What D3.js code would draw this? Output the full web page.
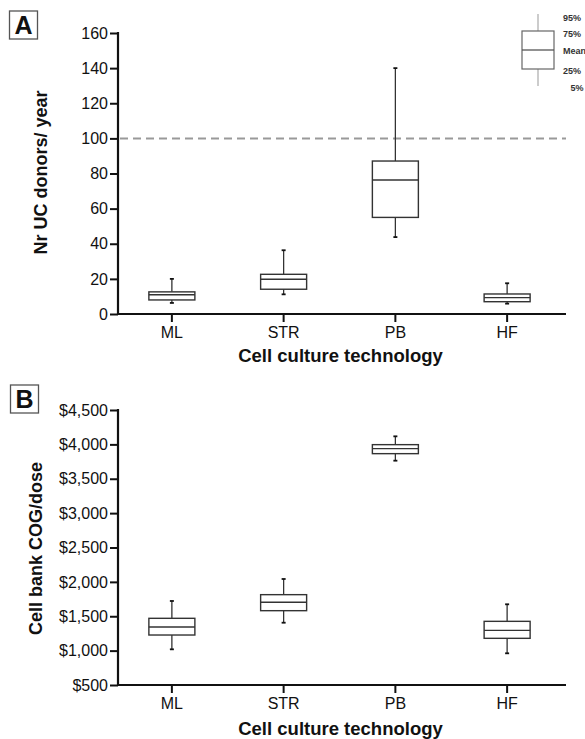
<!DOCTYPE html>
<html>
<head>
<meta charset="utf-8">
<script src="https://cdn.jsdelivr.net/npm/d3@7"></script>
<style>
  html, body { margin: 0; padding: 0; background: #fff; }
  svg { display: block; font-family: "Liberation Sans", Arial, sans-serif; }
</style>
</head>
<body>
<svg id="chart" width="585" height="739"></svg>
<script>
// Technologies compared in both panels
const categories = ["ML", "STR", "PB", "HF"];

// Panel A: number of UC donors per year (5%, 25%, mean, 75%, 95%)
const donorsP5   = [6.3, 11.2, 43.8, 5.9];
const donorsP25  = [8, 14.1, 55, 7];
const donorsMean = [11, 19.8, 76.3, 9.3];
const donorsP75  = [12.6, 22.6, 87.1, 11.4];
const donorsP95  = [20, 36.3, 140, 17.5];
const donorsTicks = [0, 20, 40, 60, 80, 100, 120, 140, 160];
const donorsLimit = 100;

// Panel B: cell bank cost of goods per dose, USD
const cogP5   = [1019, 1406, 3763, 961];
const cogP25  = [1227, 1581, 3865, 1179];
const cogMean = [1344, 1703, 3938, 1295];
const cogP75  = [1470, 1814, 3996, 1426];
const cogP95  = [1722, 2042, 4117, 1674];
const cogTicks = [500, 1000, 1500, 2000, 2500, 3000, 3500, 4000, 4500];

// Legend entries for the box key
const legendLabels = ["95%", "75%", "Mean", "25%", "5%"];

const svg = d3.select("#chart");
const axisLeftX = 118, axisRightX = 566;
const boxW = 46, capW = 4;

const x = d3.scaleBand().domain(categories).range([116, 563]).padding(0);

function panel(opts) {
  const g = svg.append("g");
  const y = d3.scaleLinear().domain(opts.domain).range([opts.bottom, opts.top]);

  // y axis
  const ya = g.append("g")
    .attr("transform", `translate(${axisLeftX},0)`)
    .call(d3.axisLeft(y).tickValues(opts.ticks).tickSize(8).tickPadding(2).tickFormat(opts.fmt));
  ya.select(".domain").remove();
  ya.selectAll(".tick line").attr("stroke", "#111").attr("stroke-width", 2);
  ya.selectAll(".tick text").attr("fill", "#111").attr("font-size", 16)
    .attr("font-family", "Liberation Sans, Arial, sans-serif");
  g.append("line").attr("x1", axisLeftX).attr("x2", axisLeftX)
    .attr("y1", opts.top - 1).attr("y2", opts.bottom + 1)
    .attr("stroke", "#111").attr("stroke-width", 2.2);

  // x axis
  const xa = g.append("g")
    .attr("transform", `translate(0,${opts.bottom})`)
    .call(d3.axisBottom(x).tickSize(8).tickPadding(5));
  xa.select(".domain").remove();
  xa.selectAll(".tick line").attr("stroke", "#111").attr("stroke-width", 2);
  xa.selectAll(".tick text").attr("fill", "#111").attr("font-size", 16)
    .attr("font-family", "Liberation Sans, Arial, sans-serif");
  g.append("line").attr("x1", axisLeftX - 1).attr("x2", axisRightX)
    .attr("y1", opts.bottom).attr("y2", opts.bottom)
    .attr("stroke", "#111").attr("stroke-width", 2.2);

  // reference line
  if (opts.refLine != null) {
    g.append("line").attr("x1", axisLeftX + 2).attr("x2", axisRightX)
      .attr("y1", y(opts.refLine)).attr("y2", y(opts.refLine))
      .attr("stroke", "#999").attr("stroke-width", 2).attr("stroke-dasharray", "8,5");
  }

  // box plots
  const rows = categories.map((c, i) => ({
    c, p5: opts.p5[i], p25: opts.p25[i], mean: opts.mean[i], p75: opts.p75[i], p95: opts.p95[i]
  }));
  const bx = g.selectAll("g.box").data(rows).join("g").attr("class", "box")
    .attr("transform", d => `translate(${x(d.c) + x.bandwidth() / 2},0)`);
  bx.append("line").attr("x1", 0).attr("x2", 0)
    .attr("y1", d => y(d.p95)).attr("y2", d => y(d.p75))
    .attr("stroke", "#333").attr("stroke-width", 1.3);
  bx.append("line").attr("x1", 0).attr("x2", 0)
    .attr("y1", d => y(d.p25)).attr("y2", d => y(d.p5))
    .attr("stroke", "#333").attr("stroke-width", 1.3);
  bx.append("line").attr("x1", -capW / 2).attr("x2", capW / 2)
    .attr("y1", d => y(d.p95)).attr("y2", d => y(d.p95))
    .attr("stroke", "#111").attr("stroke-width", 1.8);
  bx.append("line").attr("x1", -capW / 2).attr("x2", capW / 2)
    .attr("y1", d => y(d.p5)).attr("y2", d => y(d.p5))
    .attr("stroke", "#111").attr("stroke-width", 1.8);
  bx.append("rect").attr("x", -boxW / 2).attr("width", boxW)
    .attr("y", d => y(d.p75)).attr("height", d => y(d.p25) - y(d.p75))
    .attr("fill", "#fff").attr("stroke", "#333").attr("stroke-width", 1.4);
  bx.append("line").attr("x1", -boxW / 2).attr("x2", boxW / 2)
    .attr("y1", d => y(d.mean)).attr("y2", d => y(d.mean))
    .attr("stroke", "#333").attr("stroke-width", 1.4);

  // axis titles
  g.append("text")
    .attr("transform", `translate(${opts.yTitleX},${opts.yTitleY}) rotate(-90)`)
    .attr("text-anchor", "middle").attr("font-size", 18).attr("font-weight", "bold")
    .attr("fill", "#111").text(opts.yTitle);
  g.append("text")
    .attr("x", 340.5).attr("y", opts.xTitleY)
    .attr("text-anchor", "middle").attr("font-size", 18.5).attr("font-weight", "bold")
    .attr("fill", "#111").text("Cell culture technology");

  // panel letter
  g.append("rect").attr("x", opts.letterX).attr("y", opts.letterY).attr("width", 28).attr("height", 28)
    .attr("fill", "#fff").attr("stroke", "#555").attr("stroke-width", 1.3);
  g.append("text").attr("x", opts.letterX + 14).attr("y", opts.letterY + 23)
    .attr("text-anchor", "middle").attr("font-size", 25).attr("font-weight", "bold")
    .attr("fill", "#111").text(opts.letter);
  return y;
}

panel({
  domain: [0, 160], top: 33, bottom: 314, ticks: donorsTicks, fmt: d3.format("d"),
  p5: donorsP5, p25: donorsP25, mean: donorsMean, p75: donorsP75, p95: donorsP95,
  refLine: donorsLimit, yTitle: "Nr UC donors/ year", yTitleX: 47, yTitleY: 172.5, xTitleY: 362,
  letter: "A", letterX: 9.5, letterY: 11
});

panel({
  domain: [500, 4500], top: 410, bottom: 685, ticks: cogTicks, fmt: d3.format("$,"),
  p5: cogP5, p25: cogP25, mean: cogMean, p75: cogP75, p95: cogP95,
  refLine: null, yTitle: "Cell bank COG/dose", yTitleX: 42, yTitleY: 548.5, xTitleY: 735,
  letter: "B", letterX: 10.5, letterY: 385
});

// Key explaining the box elements
const key = svg.append("g").attr("class", "legend");
key.append("line").attr("x1", 538).attr("x2", 538).attr("y1", 14).attr("y2", 86)
  .attr("stroke", "#aaa").attr("stroke-width", 1.2);
key.append("rect").attr("x", 522).attr("y", 31).attr("width", 32).attr("height", 38)
  .attr("fill", "#fff").attr("stroke", "#666").attr("stroke-width", 1.2);
key.append("line").attr("x1", 522).attr("x2", 554).attr("y1", 50).attr("y2", 50)
  .attr("stroke", "#555").attr("stroke-width", 1.3);
const keyPos = [[563, 20.5], [563, 37], [563, 54], [563, 74], [570.5, 90.5]];
key.selectAll("text").data(legendLabels).join("text")
  .attr("x", (d, i) => keyPos[i][0]).attr("y", (d, i) => keyPos[i][1])
  .attr("font-size", 9).attr("font-weight", "bold").attr("fill", "#333")
  .text(d => d);
</script>
</body>
</html>
